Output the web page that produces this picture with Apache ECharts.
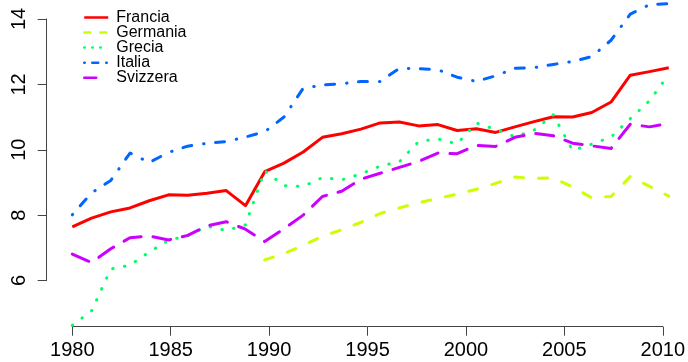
<!DOCTYPE html>
<html>
<head>
<meta charset="utf-8">
<script src="https://cdn.jsdelivr.net/npm/echarts@6/dist/echarts.min.js"></script>
<style>
  html, body { margin: 0; padding: 0; background: #ffffff; }
  #chart { width: 688px; height: 362px; }
</style>
</head>
<body>
<div id="chart"></div>
<script>
// Years 1980–2011
const years = [1980, 1981, 1982, 1983, 1984, 1985, 1986, 1987, 1988, 1989,
               1990, 1991, 1992, 1993, 1994, 1995, 1996, 1997, 1998, 1999,
               2000, 2001, 2002, 2003, 2004, 2005, 2006, 2007, 2008, 2009,
               2010, 2011];

const francia = [7.64, 7.91, 8.10, 8.22, 8.44, 8.62, 8.61, 8.67, 8.75, 8.29,
                 9.33, 9.59, 9.93, 10.38, 10.49, 10.63, 10.82, 10.85, 10.73, 10.77,
                 10.59, 10.64, 10.53, 10.70, 10.86, 11.01, 11.00, 11.14, 11.46, 12.28,
                 12.39, 12.51];

const germania = [null, null, null, null, null, null, null, null, null, null,
                  6.63, 6.82, 7.08, 7.35, 7.55, 7.78, 8.05, 8.22, 8.38, 8.51,
                  8.64, 8.79, 8.97, 9.17, 9.12, 9.14, 8.86, 8.53, 8.57, 9.18,
                  8.88, 8.58];

const grecia = [4.63, 5.07, 6.35, 6.47, 6.87, 7.23, 7.37, 7.66, 7.53, 7.70,
                9.36, 8.90, 8.88, 9.15, 9.08, 9.26, 9.50, 9.63, 10.25, 10.33,
                10.18, 10.82, 10.62, 10.40, 10.60, 11.07, 9.98, 10.17, 10.39, 10.95,
                11.50, 12.30];

const italia = [8.01, 8.68, 9.06, 9.90, 9.61, 9.92, 10.11, 10.20, 10.25, 10.39,
                10.55, 11.00, 11.88, 11.98, 12.02, 12.09, 12.09, 12.49, 12.48, 12.45,
                12.22, 12.09, 12.26, 12.49, 12.51, 12.61, 12.70, 12.85, 13.35, 14.15,
                14.44, 14.47];

const svizzera = [6.81, 6.55, 6.97, 7.31, 7.36, 7.24, 7.38, 7.67, 7.80, 7.57,
                  7.19, 7.58, 8.00, 8.57, 8.73, 9.10, 9.28, 9.46, 9.64, 9.90,
                  9.88, 10.13, 10.10, 10.38, 10.50, 10.43, 10.20, 10.12, 10.04, 10.78,
                  10.70, 10.80];

const seriesNames = ['Francia', 'Germania', 'Grecia', 'Italia', 'Svizzera'];
const seriesValues = [francia, germania, grecia, italia, svizzera];

// Axis tick positions
const xTicks = { min: 1980, max: 2010, step: 5 };
const yTicks = { min: 6, max: 14, step: 2 };

const FONT = "'Liberation Sans', Arial, Helvetica, sans-serif";

// Pixel scale shared by the data grid and the axis grid
const PX_PER_YEAR = 591 / (xTicks.max - xTicks.min);
const PLOT_LEFT = 72.3;
const PLOT_TOP = 19;
const PLOT_HEIGHT = 261.5;
// The data grid runs two years past the last tick so the 2011 values fit
const DATA_MAX_YEAR = 2012;

// Line look for each country: colour, dash pattern on the plot, dash pattern in the key
const looks = [
  { color: '#FF0000', dash: 'solid',            keyDash: 'solid' },
  { color: '#CCFF00', dash: [9, 15],            keyDash: [6, 10] },
  { color: '#00FF66', dash: [0.5, 11.5],        keyDash: [0.5, 7.5] },
  { color: '#0066FF', dash: [0.5, 11.5, 9, 12], keyDash: [0.5, 7.5, 6, 8] },
  { color: '#CC00FF', dash: [18, 12],           keyDash: [12, 12] }
];

const series = seriesNames.map((name, k) => ({
  name: name,
  type: 'line',
  xAxisIndex: 0,
  yAxisIndex: 0,
  data: years.map((y, i) => [y, seriesValues[k][i]]),
  symbol: 'none',
  clip: false,
  connectNulls: false,
  lineStyle: {
    color: looks[k].color,
    width: 3,
    type: looks[k].dash,
    cap: looks[k].dash === 'solid' ? 'butt' : 'round',
    join: 'round'
  },
  itemStyle: { color: looks[k].color },
  emphasis: { disabled: true }
}));

const axisLineStyle = { color: '#444444', width: 1 };
const tickLabel = { fontFamily: FONT, fontSize: 20, color: '#000000' };

const chart = echarts.init(document.getElementById('chart'), null, { renderer: 'canvas' });

chart.setOption({
  animation: false,
  backgroundColor: '#ffffff',
  grid: [
    // data area (with the vertical axis)
    { left: PLOT_LEFT, top: PLOT_TOP,
      width: PX_PER_YEAR * (DATA_MAX_YEAR - xTicks.min), height: PLOT_HEIGHT },
    // horizontal axis spanning the first to the last tick
    { left: PLOT_LEFT, top: PLOT_TOP,
      width: PX_PER_YEAR * (xTicks.max - xTicks.min), height: PLOT_HEIGHT }
  ],
  legend: {
    orient: 'vertical',
    left: 83,
    top: 9.5,
    padding: 0,
    itemWidth: 24,
    itemHeight: 14,
    itemGap: -0.95,
    itemStyle: { opacity: 0 },
    selectedMode: false,
    textStyle: {
      fontFamily: FONT,
      fontSize: 16,
      color: '#000000',
      lineHeight: 14,
      padding: [0, 0, 0, 3]
    },
    data: seriesNames.map((name, k) => ({
      name: name,
      lineStyle: {
        width: 2.5,
        type: looks[k].keyDash,
        cap: looks[k].keyDash === 'solid' ? 'butt' : 'round'
      }
    }))
  },
  xAxis: [
    {
      gridIndex: 0,
      type: 'value',
      min: xTicks.min,
      max: DATA_MAX_YEAR,
      show: false
    },
    {
      gridIndex: 1,
      type: 'value',
      min: xTicks.min,
      max: xTicks.max,
      interval: xTicks.step,
      offset: 46.2,
      axisLine: { show: true, lineStyle: axisLineStyle },
      axisTick: { show: true, inside: false, length: 9, lineStyle: axisLineStyle },
      axisLabel: Object.assign({ show: true, margin: 14, formatter: v => String(v) }, tickLabel),
      splitLine: { show: false }
    }
  ],
  yAxis: [
    {
      gridIndex: 0,
      type: 'value',
      min: yTicks.min,
      max: yTicks.max,
      interval: yTicks.step,
      offset: 25.6,
      axisLine: { show: true, lineStyle: axisLineStyle },
      axisTick: { show: true, inside: false, length: 9, lineStyle: axisLineStyle },
      axisLabel: Object.assign({ show: true, rotate: 90, margin: 17, formatter: v => String(v) }, tickLabel),
      splitLine: { show: false }
    },
    {
      gridIndex: 1,
      type: 'value',
      min: yTicks.min,
      max: yTicks.max,
      show: false
    }
  ],
  series: series
});
</script>
</body>
</html>
